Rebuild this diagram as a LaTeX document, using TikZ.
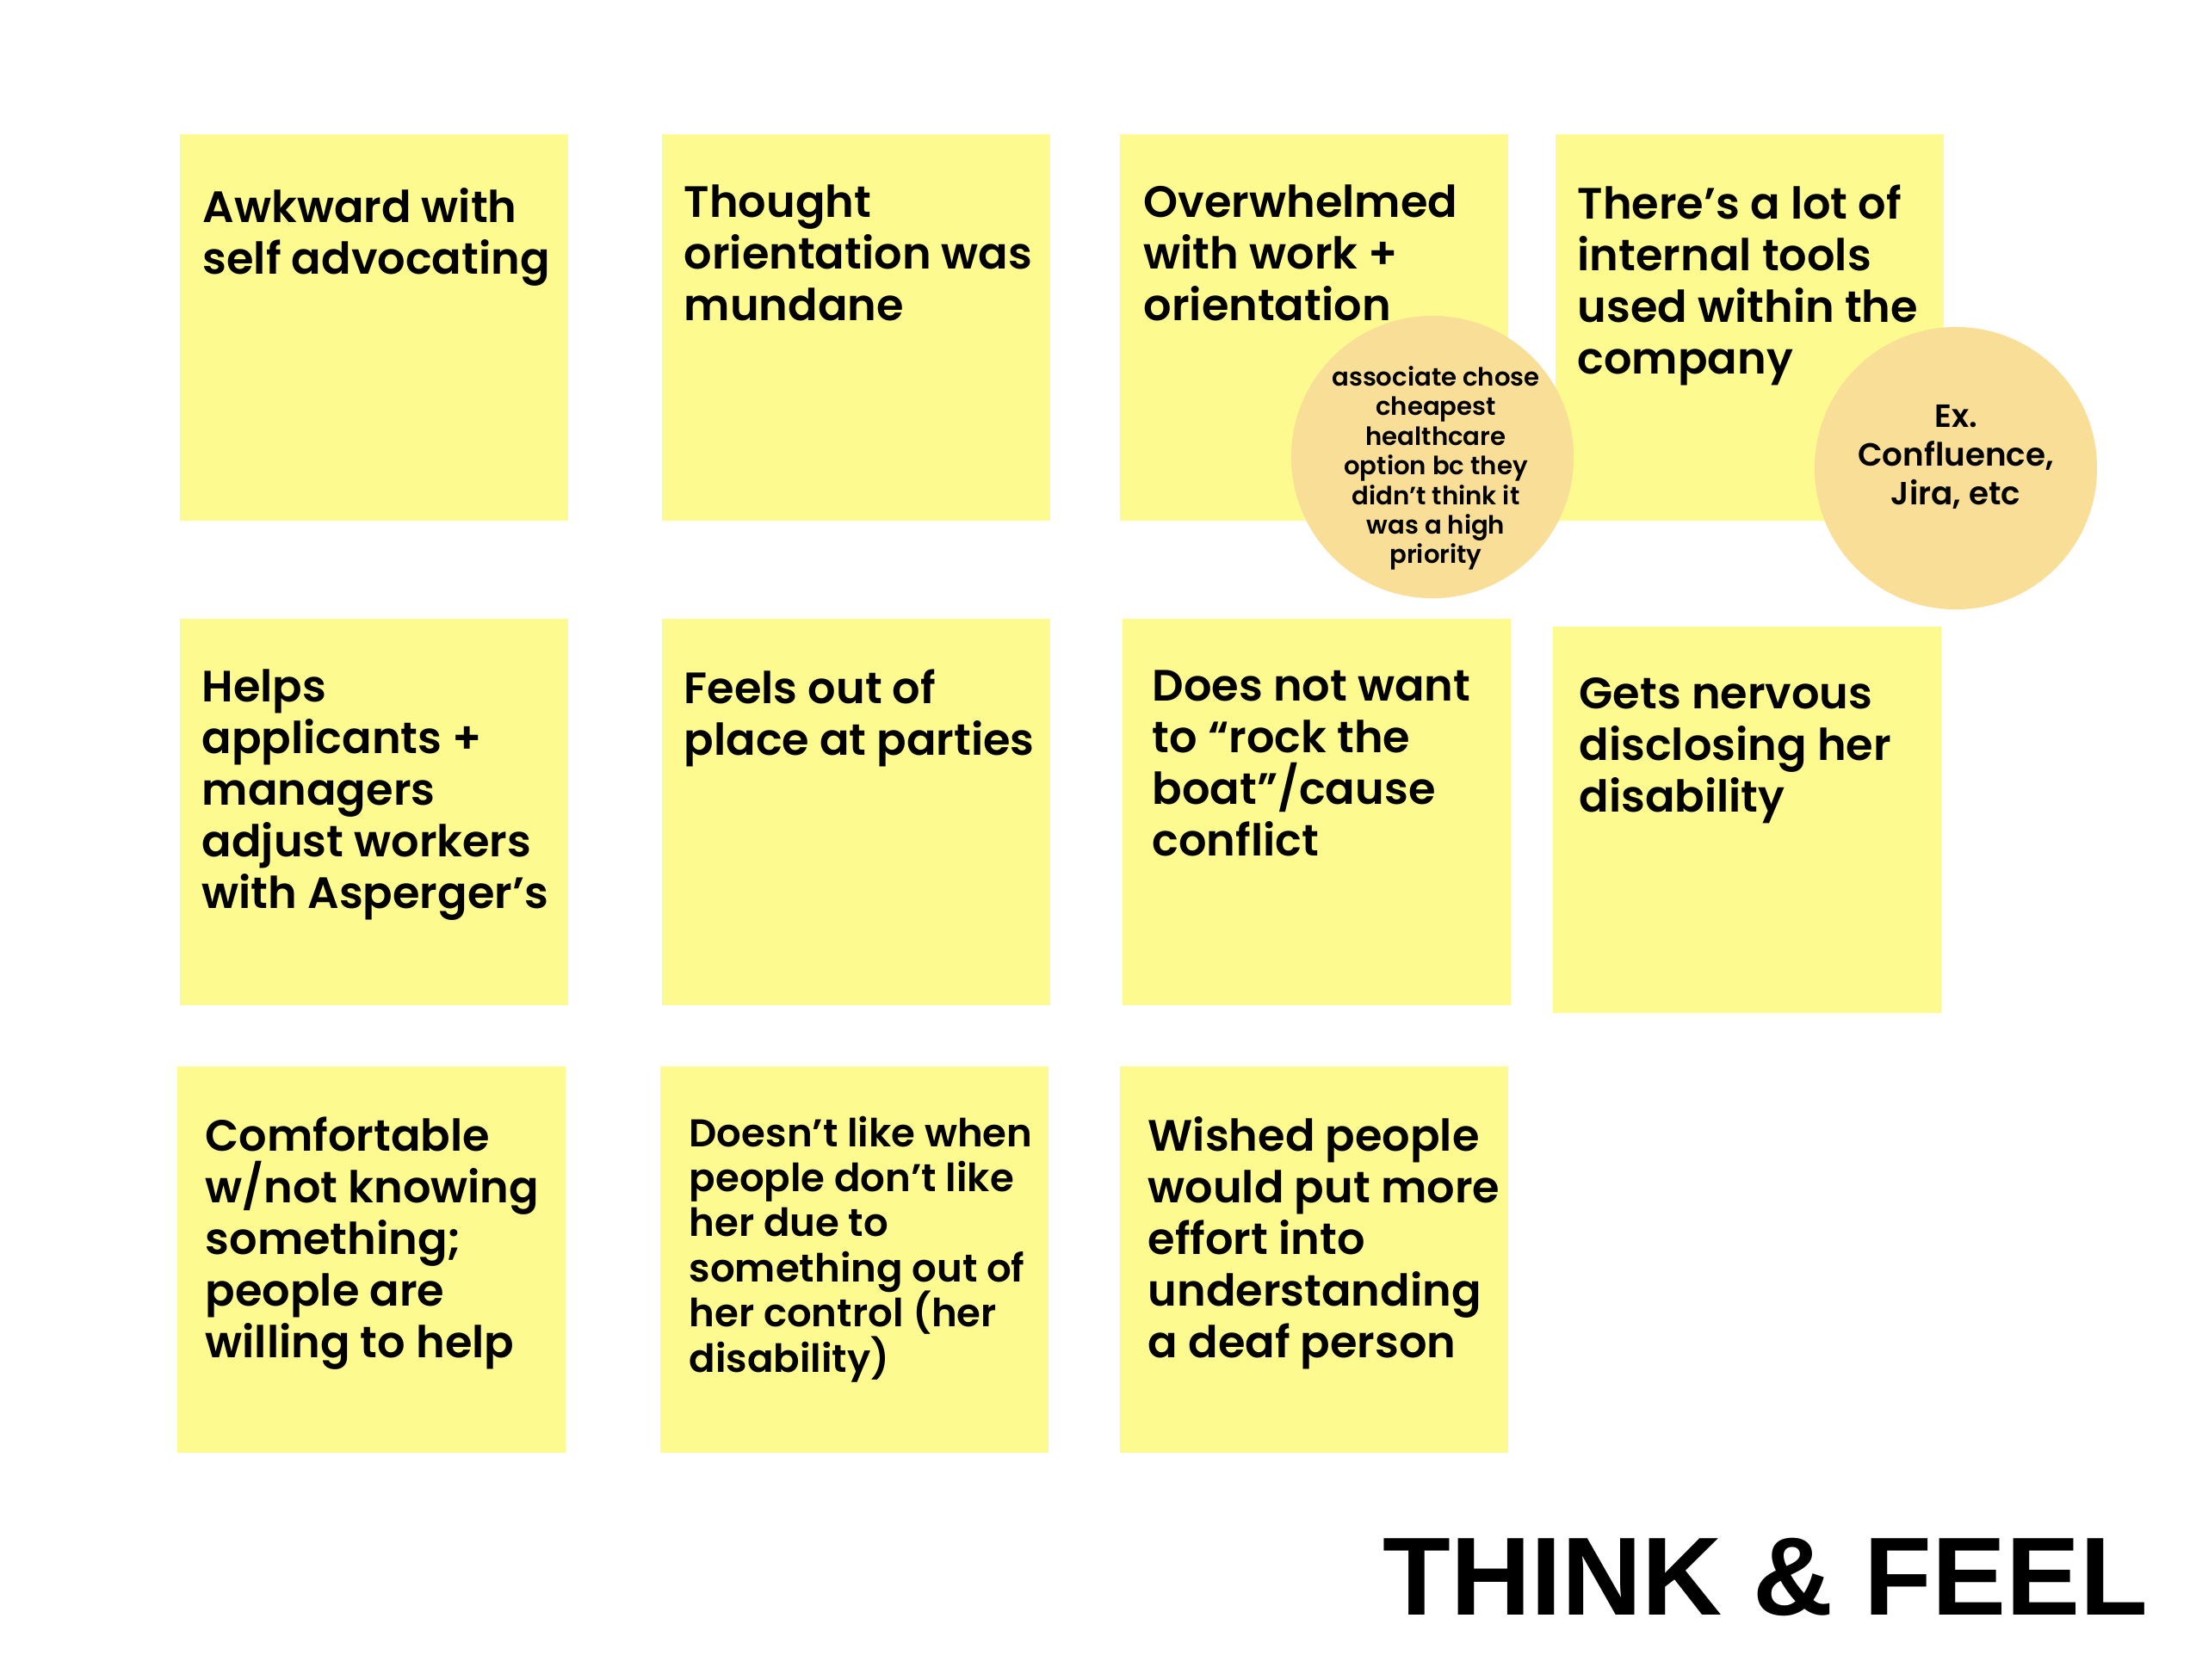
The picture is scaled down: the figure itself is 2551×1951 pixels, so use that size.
\documentclass[tikz,border=0pt]{standalone}
\usepackage{fontspec}
\setmainfont{Poppins}[BoldFont={* SemiBold}]
\newfontfamily\titlefont{Liberation Sans}
\setlength{\lineskiplimit}{-20pt}
\definecolor{stickyyellow}{RGB}{253,250,143}
\definecolor{stickytan}{RGB}{248,222,150}
\tikzset{
  sticky/.style={fill=stickyyellow, draw=none, anchor=north west, minimum width=4.51cm, minimum height=4.49cm, inner sep=0pt},
  stickytext/.style={anchor=north west, align=left, inner sep=0pt, font=\bfseries\fontsize{14.5}{17.07}\selectfont, execute at begin node={\rule{0pt}{12pt}}},
  smalltext/.style={stickytext, font=\bfseries\fontsize{12.8}{14.9}\selectfont, execute at begin node={\rule{0pt}{10pt}}},
  bubble/.style={circle, fill=stickytan, minimum size=3.28cm, inner sep=0pt},
  bubbletext/.style={align=center, inner sep=0pt, font=\bfseries\fontsize{8.3}{9.8}\selectfont},
}
\begin{document}
\begin{tikzpicture}[x=0.01cm, y=-0.01cm]
  \useasboundingbox (0,0) rectangle (2551,1951);
  \fill[white] (0,0) rectangle (2551,1951);
  % top row
  \node[sticky] (awkward) at (208,155) {};
  \node[stickytext] (awkward-txt) at ([shift={(27,63)}]awkward.north west) {Awkward with\\self advocating};
  \node[sticky] (mundane) at (768,155) {};
  \node[stickytext] (mundane-txt) at ([shift={(26,59)}]mundane.north west) {Thought\\orientation was\\mundane};
  \node[sticky] (overwhelmed) at (1300,155) {};
  \node[stickytext] (overwhelmed-txt) at ([shift={(28,59)}]overwhelmed.north west) {Overwhelmed\\with work +\\orientation};
  \node[sticky] (tools) at (1806,155) {};
  \node[stickytext] (tools-txt) at ([shift={(26,59)}]tools.north west) {There’s a lot of\\internal tools\\used within the\\company};
  % middle row
  \node[sticky] (helps) at (208,718) {};
  \node[stickytext] (helps-txt) at ([shift={(26,59)}]helps.north west) {Helps\\applicants +\\managers\\adjust workers\\with Asperger’s};
  \node[sticky] (parties) at (768,718) {};
  \node[stickytext] (parties-txt) at ([shift={(26,59)}]parties.north west) {Feels out of\\place at parties};
  \node[sticky] (boat) at (1303,718) {};
  \node[stickytext] (boat-txt) at ([shift={(35,60)}]boat.north west) {Does not want\\to “rock the\\boat”/cause\\conflict};
  \node[sticky] (nervous) at (1803,727) {};
  \node[stickytext] (nervous-txt) at ([shift={(31,60)}]nervous.north west) {Gets nervous\\disclosing her\\disability};
  % bottom row
  \node[sticky] (comfortable) at (205,1238) {};
  \node[stickytext] (comfortable-txt) at ([shift={(33,59)}]comfortable.north west) {Comfortable\\w/not knowing\\something;\\people are\\willing to help};
  \node[sticky] (dislike) at (766,1238) {};
  \node[smalltext] (dislike-txt) at ([shift={(34,58)}]dislike.north west) {Doesn’t like when\\people don’t like\\her due to\\something out of\\her control (her\\disability)};
  \node[sticky] (deaf) at (1300,1238) {};
  \node[stickytext] (deaf-txt) at ([shift={(33,59)}]deaf.north west) {Wished people\\would put more\\effort into\\understanding\\a deaf person};
  % comment bubbles
  \node[bubble] (healthcare) at (1664,531) {};
  \node[bubbletext] (healthcare-txt) at ([shift={(4,13)}]healthcare.center) {associate chose\\cheapest\\healthcare\\option bc they\\didn’t think it\\was a high\\priority};
  \node[bubble] (examples) at (2272,544) {};
  \node[bubbletext, font=\bfseries\fontsize{10.6}{12.7}\selectfont] (examples-txt) at ([shift={(0,-13)}]examples.center) {Ex.\\Confluence,\\Jira, etc};
  % title
  \node[anchor=base west, inner sep=0pt, font=\titlefont\bfseries\fontsize{36.7}{40}\selectfont] (title) at (1606,1876) {THINK \& FEEL};
\end{tikzpicture}
\end{document}
